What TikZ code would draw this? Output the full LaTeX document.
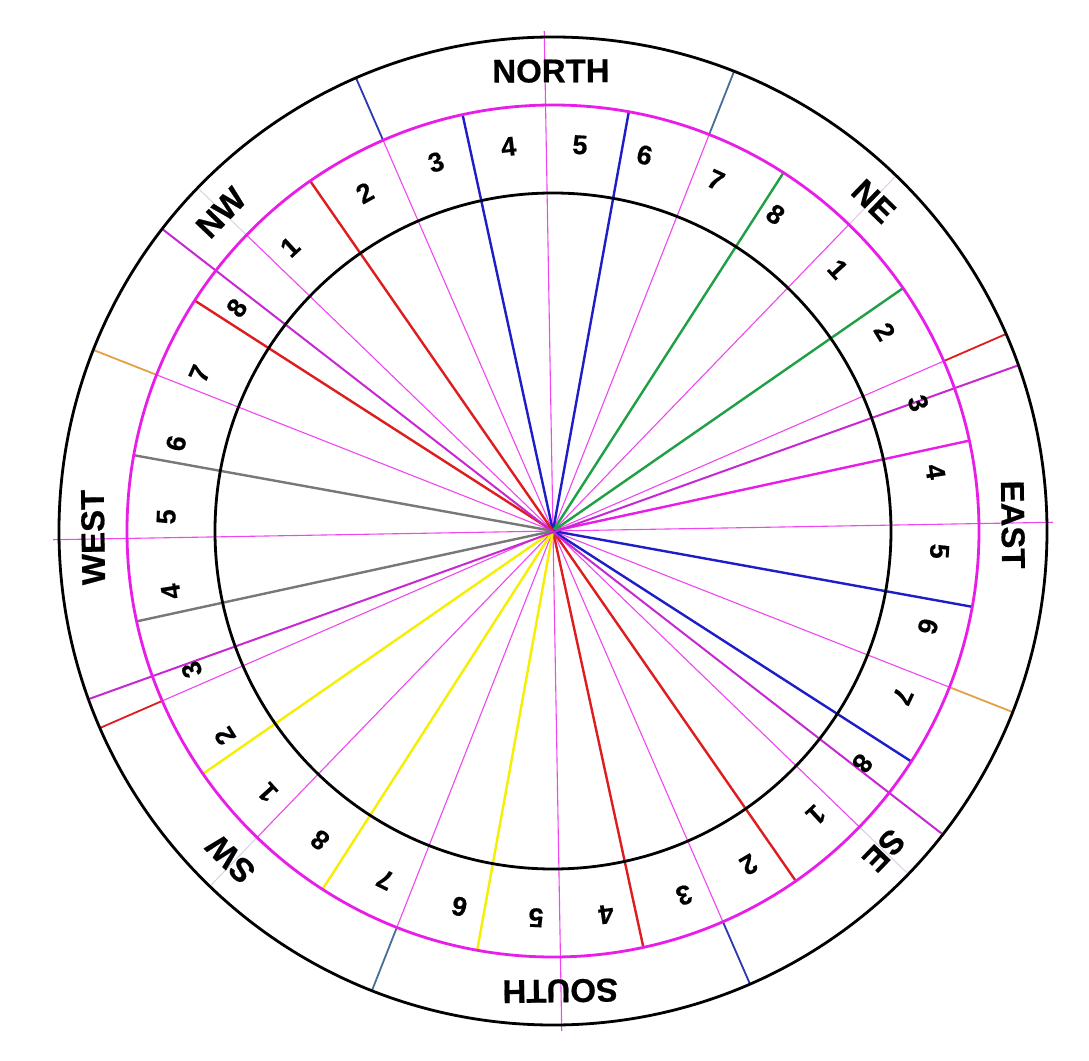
\documentclass[tikz,border=0pt]{standalone}
\usepackage{fontspec}
\setmainfont{Liberation Sans}
\newfontfamily\labfont{Liberation Sans}[BoldFeatures={FakeBold=0.5}]
\definecolor{mag}{RGB}{232,30,232}
\definecolor{thinmag}{RGB}{240,70,240}
\definecolor{purp}{RGB}{200,40,210}
\definecolor{cblue}{RGB}{30,30,200}
\definecolor{dblue}{RGB}{45,55,175}
\definecolor{cgreen}{RGB}{30,160,70}
\definecolor{cred}{RGB}{222,30,30}
\definecolor{cyellow}{RGB}{245,240,0}
\definecolor{cgray}{RGB}{120,120,120}
\definecolor{corange}{RGB}{228,160,70}
\definecolor{cteal}{RGB}{70,110,150}
\definecolor{faintc}{RGB}{222,205,228}
\tikzset{
  sectorline/.style={thinmag, line width=1.1pt},
  colline/.style={line width=2.4pt},
  purpline/.style={purp, line width=2pt},
  divline/.style={line width=1.8pt},
  faintline/.style={faintc, line width=1pt},
  ring/.style={line width=2.8pt},
  numlab/.style={font=\labfont\fontsize{27}{27}\selectfont\bfseries, inner sep=0pt},
  dirlab/.style={font=\labfont\fontsize{33}{33}\selectfont\bfseries, inner sep=0pt}
}
\begin{document}
\begin{tikzpicture}[x=1pt,y=1pt]
\useasboundingbox (-553,-529) rectangle (536,531);
\fill[white] (-553,-529) rectangle (536,531);
% thin sector lines (32 padas), nominal angle theta clockwise from north, picture turned 1 deg
\foreach \k in {0,...,31} \draw[sectorline] (0,0) -- ({91-\k*11.25}:426);
% cardinal extensions
\foreach \k in {0,8,16,24} \draw[sectorline] ({91-\k*11.25}:426) -- ({91-\k*11.25}:500);
% faint diagonal extensions
\foreach \k in {4,12,20,28} \draw[faintline] ({91-\k*11.25}:426) -- ({91-\k*11.25}:494);
% coloured pada lines
\foreach \k/\c in {31/cblue,1/cblue,3/cgreen,5/cgreen,7/mag,9/cblue,11/cblue,13/cred,15/cred,17/cyellow,19/cyellow,21/cyellow,23/cgray,25/cgray,27/cred,29/cred}
  \draw[colline,\c] (0,0) -- ({91-\k*11.25}:426);
% outer ring dividers
\foreach \k/\c in {30/dblue,2/cteal,6/cred,10/corange,14/dblue,18/cteal,22/cred,26/corange}
  \draw[divline,\c] ({91-\k*11.25}:426) -- ({91-\k*11.25}:494);
% purple diameters
\draw[purpline] ({90-70.4}:494) -- ({90-250.1}:494);
\draw[purpline] ({90-127.9}:494) -- ({90-307.7}:494);
% rings
\draw[ring,black] (0,0) circle (494);
\draw[ring,mag] (0,0) circle (426);
\draw[ring,black] (0,0) circle (338);
% pada numbers
\foreach \t/\n [count=\i] in {4.0/5,13.7/6,24.9/7,35.1/8,47.4/1,59/2,70.7/3,81.2/4,93/5,104.3/6,115.3/7,126.9/8,137.2/1,149.6/2,160.2/3,172.1/4,182.5/5,194/6,205.7/7,217/8,227.5/1,238/2,249/3,261/4,272.1/5,283.1/6,294/7,305.2/8,317.2/1,330.9/2,342.4/3,353.4/4}
  \node[numlab, rotate=-\t] (num\i) at ({90-\t}:387) {\n};
% directions
\foreach \t/\n [count=\i] in {-0.25/NORTH,44.2/NE,89.2/EAST,134/SE,179.1/SOUTH,224.5/SW,269.2/WEST,313.8/NW}
  \node[dirlab, rotate=-\t] (dir\i) at ({90-\t}:460) {\n};
\end{tikzpicture}
\end{document}
